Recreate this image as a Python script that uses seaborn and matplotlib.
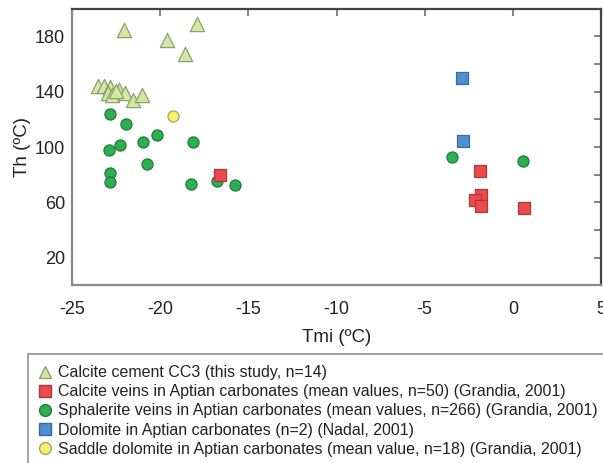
import matplotlib
matplotlib.use("Agg")
import matplotlib.pyplot as plt
import seaborn as sns
import pandas as pd
from matplotlib.lines import Line2D

# ---- data ----
cc3_tmi = [-22.06, -17.92, -19.59, -18.62, -23.55, -23.18, -22.86, -22.95, -22.71, -22.34, -22.02, -21.56, -21.04, -22.5]
cc3_th = [184.3, 189.0, 177.1, 167.5, 144.0, 144.0, 143.5, 139.4, 137.7, 141.3, 138.7, 133.9, 137.5, 140.5]

calcite_tmi = [-16.6, -1.85, -1.83, -2.13, -1.78, 0.62]
calcite_th = [79.6, 82.3, 65.0, 61.4, 57.3, 55.9]

sphal_tmi = [-22.86, -21.93, -20.2, -22.28, -22.9, -20.98, -18.16, -20.72, -22.86, -22.86, -18.25, -16.76, -15.74, -3.43, 0.6]
sphal_th = [123.8, 116.6, 108.9, 101.7, 98.1, 103.4, 103.4, 87.8, 81.4, 74.4, 73.2, 75.6, 72.4, 92.6, 90.0]

dolo_tmi = [-2.89, -2.8]
dolo_th = [150.2, 104.1]

saddle_tmi = [-19.29]
saddle_th = [122.4]

labels = [
    "Calcite cement CC3 (this study, n=14)",
    "Calcite veins in Aptian carbonates (mean values, n=50) (Grandia, 2001)",
    "Sphalerite veins in Aptian carbonates (mean values, n=266) (Grandia, 2001)",
    "Dolomite in Aptian carbonates (n=2) (Nadal, 2001)",
    "Saddle dolomite in Aptian carbonates (mean value, n=18) (Grandia, 2001)",
]
x_ticks = [-25, -20, -15, -10, -5, 0, 5]
y_ticks_major = [20, 60, 100, 140, 180]
y_ticks_all = [20, 40, 60, 80, 100, 120, 140, 160, 180]

sns.set_style("white")
plt.rcParams["font.family"] = ["Liberation Sans", "DejaVu Sans"]

fig = plt.figure(figsize=(6.03, 4.63), dpi=100)
ax = fig.add_axes([72 / 603, 1 - 285.3 / 463, (601 - 72) / 603, (285.3 - 8.7) / 463])

styles = [
    dict(x=sphal_tmi, y=sphal_th, marker="o", color="#2fae52", edge="#1f7d3b", s=64),
    dict(x=cc3_tmi, y=cc3_th, marker="^", color="#d3e7a4", edge="#8fa070", s=105),
    dict(x=calcite_tmi, y=calcite_th, marker="s", color="#ee4a4c", edge="#a83a3a", s=80),
    dict(x=dolo_tmi, y=dolo_th, marker="s", color="#4f8fd0", edge="#3a6a9a", s=80),
    dict(x=saddle_tmi, y=saddle_th, marker="o", color="#f8ef6c", edge="#a8a070", s=64),
]
for st in styles:
    df = pd.DataFrame({"Tmi": st["x"], "Th": st["y"]})
    sns.scatterplot(data=df, x="Tmi", y="Th", ax=ax, marker=st["marker"], color=st["color"],
                    edgecolor=st["edge"], linewidth=0.9, s=st["s"], zorder=3, legend=False)

ax.set_xlim(-25, 5)
ax.set_ylim(0, 200)
ax.set_xticks(x_ticks)
ax.set_xticklabels([str(v) for v in x_ticks])
ax.set_yticks(y_ticks_all)
ax.set_yticklabels([str(v) if v in y_ticks_major else "" for v in y_ticks_all])
ax.tick_params(direction="in", length=5, width=1.5, color="#888888", labelsize=13,
               labelcolor="#222222", top=True, right=True)
ax.tick_params(axis="x", pad=11)
ax.tick_params(axis="y", pad=5)
for side, sp in ax.spines.items():
    sp.set_visible(True)
    sp.set_color("#8a8a8a" if side in ("left", "bottom") else "#444444")
    sp.set_linewidth(1.6)
ax.set_xlabel("Tmi (ºC)", fontsize=13.5, color="#222222", labelpad=8)
ax.set_ylabel("Th (ºC)", fontsize=13.5, color="#222222", labelpad=3)
ax.grid(False)

handles = [
    Line2D([], [], marker="^", linestyle="", markersize=8.5, markerfacecolor="#d3e7a4", markeredgecolor="#8fa070"),
    Line2D([], [], marker="s", linestyle="", markersize=8.5, markerfacecolor="#ee4a4c", markeredgecolor="#a83a3a"),
    Line2D([], [], marker="o", linestyle="", markersize=8.5, markerfacecolor="#2fae52", markeredgecolor="#1f7d3b"),
    Line2D([], [], marker="s", linestyle="", markersize=8.5, markerfacecolor="#4f8fd0", markeredgecolor="#3a6a9a"),
    Line2D([], [], marker="o", linestyle="", markersize=8.5, markerfacecolor="#f8ef6c", markeredgecolor="#a8a070"),
]
leg = fig.legend(handles, labels, loc="upper left", bbox_to_anchor=(28 / 603, 1 - 354 / 463),
                 frameon=True, fancybox=False, fontsize=11.5, handlelength=0.7, handletextpad=0.45,
                 labelspacing=0.26, borderpad=0.7, borderaxespad=0, labelcolor="#222222")
leg.get_frame().set_edgecolor("#777777")
leg.get_frame().set_linewidth(1.2)

fig.savefig("out.png", dpi=100)
